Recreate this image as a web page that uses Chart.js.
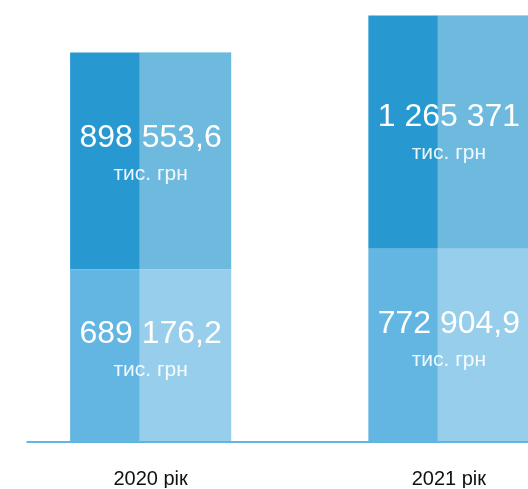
<!DOCTYPE html>
<html lang="uk">
<head>
<meta charset="utf-8">
<title>2020 / 2021</title>
<script src="https://cdn.jsdelivr.net/npm/chart.js@4.4.1/dist/chart.umd.min.js"></script>
<style>
  html, body { margin: 0; padding: 0; background: #fff; overflow: hidden; }
  #wrap { width: 528px; height: 489px; overflow: hidden; position: relative; }
  canvas { display: block; }
</style>
</head>
<body>
<div id="wrap"><canvas id="chart" width="598" height="489"></canvas></div>
<script>
  // years on the x axis
  const years = ["2020 рік", "2021 рік"];
  // lower block of each bar (тис. грн)
  const bottomValues = [689176.2, 772904.9];
  // upper block, as tall as it is drawn in the picture
  const topValues = [872000, 937000];
  // texts written inside the blocks
  const bottomLabels = ["689 176,2", "772 904,9"];
  const topLabels = ["898 553,6", "1 265 371"];
  const unitLabel = "тис. грн";

  const FONT = '"Liberation Sans", Arial, sans-serif';

  // lighter right-hand part of each bar + the white captions
  const blockText = {
    id: "blockText",
    afterDatasetsDraw(chart) {
      const ctx = chart.ctx;
      const texts = [bottomLabels, topLabels];
      ctx.save();
      chart.data.datasets.forEach((ds, di) => {
        chart.getDatasetMeta(di).data.forEach((bar, i) => {
          const p = bar.getProps(["x", "y", "base", "width"], true);
          const left = p.x - p.width / 2;
          const split = left + p.width * 0.43;
          ctx.fillStyle = "rgba(255,255,255,0.33)";
          ctx.fillRect(split, p.y, left + p.width - split, p.base - p.y);

          // lower blocks: caption centred; upper blocks: fixed distance above the join
          const mid = di === 0 ? (p.y + p.base) / 2 : p.base - 110;
          ctx.textAlign = "center";
          ctx.textBaseline = "middle";
          ctx.fillStyle = "#fff";
          ctx.font = "32px " + FONT;
          ctx.fillText(texts[di][i], p.x, mid - 21);
          ctx.fillStyle = "rgba(255,255,255,0.9)";
          ctx.font = "21px " + FONT;
          ctx.fillText(unitLabel, p.x, mid + 15);
        });
      });

      // thin baseline under the bars
      const a = chart.chartArea;
      ctx.fillStyle = "#62b5e2";
      ctx.fillRect(a.left + 25, a.bottom, chart.width - a.left - 25, 2);
      ctx.restore();
    }
  };

  new Chart(document.getElementById("chart"), {
    type: "bar",
    data: {
      labels: years,
      datasets: [
        { label: "bottom", data: bottomValues, backgroundColor: "#64b6e2" },
        { label: "top", data: topValues, backgroundColor: "#2898d0" }
      ]
    },
    options: {
      responsive: false,
      animation: false,
      layout: { padding: { left: 1.5, right: 0, top: 0, bottom: 1 } },
      datasets: { bar: { categoryPercentage: 1, barPercentage: 0.54, borderWidth: 0 } },
      plugins: { legend: { display: false }, tooltip: { enabled: false } },
      scales: {
        x: {
          stacked: true,
          grid: { display: false, drawTicks: false },
          border: { display: false },
          ticks: { color: "#111", padding: 26, font: { family: FONT, size: 20 } },
          afterFit(scale) { scale.height = 47; }
        },
        y: {
          stacked: true,
          display: false,
          min: 0,
          max: 1772000
        }
      }
    },
    plugins: [blockText]
  });
</script>
</body>
</html>
